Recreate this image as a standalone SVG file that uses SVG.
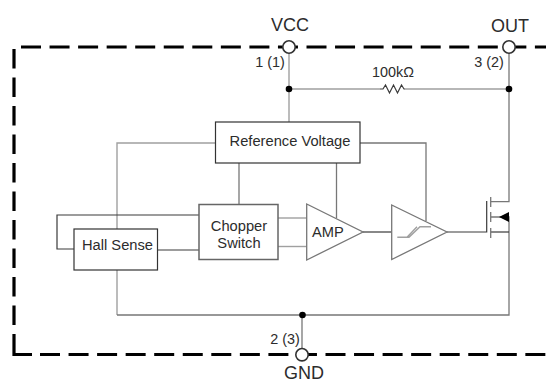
<svg xmlns="http://www.w3.org/2000/svg" width="546" height="383" viewBox="0 0 546 383">
<style>
text{font-family:"Liberation Sans",Arial,sans-serif;fill:#2c2c2c;text-anchor:middle}
.t14{font-size:14.7px}
.t13{font-size:14.4px}
.t16{font-size:18px}
.box{fill:#fff;stroke:#333;stroke-width:1.2}
.boxg{fill:#fff;stroke:#666;stroke-width:1.5}
.w{fill:none;stroke:#3a3a3a;stroke-width:1.2}
.l{fill:none;stroke:#a0a0a0;stroke-width:1.4}
.d{fill:none;stroke:#777;stroke-width:1.3}
.dash{fill:none;stroke:#000;stroke-width:3.2}
.pin{fill:#fff;stroke:#333;stroke-width:1.6}
.dot{fill:#000}
.tri{fill:#fff;stroke:#777;stroke-width:1.3}
</style>
<g id="boundary">
<path class="dash" d="M21 47H546" stroke-dasharray="20 8.55"/>
<path class="dash" d="M14 49V326" stroke-dasharray="19.5 9"/>
<path class="dash" d="M14 334V354.5H32"/>
<path class="dash" d="M40 354.5H546" stroke-dasharray="20 8.55"/>
</g>
<g id="connectors">
<path class="l" d="M289 53V122"/>
<path class="l" d="M289 89H380M405 89H509"/>
<path class="w" d="M380 89L383 89 385.500 85 389.500 93 393.500 85 397.500 93 401.500 85 404 89 405 89"/>
<path class="d" d="M509 53V201.700H491"/>
<path class="l" d="M215.500 143H117V229"/>
<path class="d" d="M360 143H426V221"/>
<path class="d" d="M239 163V204.500"/>
<path class="d" d="M336.500 163V218"/>
<path class="w" d="M199 215H57V249H74"/>
<path class="w" d="M157.500 250H199"/>
<path class="l" d="M117 270V315"/>
<path class="d" d="M117 315H509V217H491"/>
<path class="d" d="M302 315V348"/>
<path class="l" d="M278 218H307"/>
<path class="l" d="M278 246.500H307"/>
<path class="w" d="M363 232H391.700"/>
<path class="w" d="M447 232H486.700V201"/>
<path class="w" d="M491 232H509"/>
<path class="d" d="M490.700 197V207M490.700 212V222M490.700 228V238"/>
<path d="M499 217L509 212V222Z" fill="#000"/>
</g>
<g id="reference-voltage">
<rect class="box" x="215.500" y="122" width="144.500" height="41"/>
<text class="t14" x="290" y="146">Reference Voltage</text>
</g>
<g id="hall-sense">
<rect class="box" x="74" y="229" width="83.500" height="41"/>
<text class="t14" x="117.500" y="250">Hall Sense</text>
</g>
<g id="chopper-switch">
<rect class="boxg" x="199" y="204.500" width="79" height="55"/>
<text class="t14" x="239" y="231">Chopper</text>
<text class="t14" x="239" y="248">Switch</text>
</g>
<g id="amp">
<path class="tri" d="M306.700 204L363 232 306.700 260Z"/>
<text class="t14" x="328" y="237">AMP</text>
</g>
<g id="schmitt">
<path class="tri" d="M391.700 205L447 232 391.700 259.500Z"/>
<path class="l" d="M397.300 237.300H409L420 226.700H431M407 237.300L417 226.700"/>
</g>
<g id="vcc-pin">
<circle class="pin" cx="289" cy="47" r="6.200"/>
<circle class="dot" cx="289" cy="89" r="3.300"/>
<text class="t16" x="290" y="31">VCC</text>
<text class="t13" x="270" y="67">1 (1)</text>
</g>
<g id="out-pin">
<circle class="pin" cx="509" cy="47" r="6.200"/>
<circle class="dot" cx="509" cy="89" r="3.300"/>
<text class="t16" x="510" y="32">OUT</text>
<text class="t13" x="489" y="67">3 (2)</text>
</g>
<g id="gnd-pin">
<circle class="pin" cx="302" cy="354.700" r="6.200"/>
<circle class="dot" cx="302.500" cy="315" r="3.300"/>
<text class="t16" x="304" y="379">GND</text>
<text class="t13" x="285" y="344">2 (3)</text>
</g>
<g id="resistor-label">
<text class="t13" x="393" y="77">100kΩ</text>
</g>
</svg>
